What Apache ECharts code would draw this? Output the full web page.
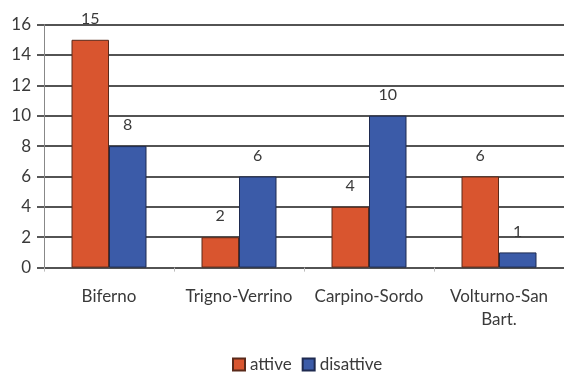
<!DOCTYPE html>
<html>
<head>
<meta charset="utf-8">
<style>
  html, body { margin: 0; padding: 0; background: #ffffff; }
  #chart { width: 564px; height: 373px; }
</style>
<script src="https://cdn.jsdelivr.net/npm/echarts@6/dist/echarts.min.js"></script>
</head>
<body>
<div id="chart"></div>
<script>
// Sorgenti per bacino: attive e disattive
const categories = ['Biferno', 'Trigno-Verrino', 'Carpino-Sordo', 'Volturno-San\nBart.'];
const attive = [15, 2, 4, 6];
const disattive = [8, 6, 10, 1];
const seriesNames = ['attive', 'disattive'];

const FONT = 'Lato, "Open Sans", sans-serif';
const TEXT = '#3a3a3a';

const chart = echarts.init(document.getElementById('chart'), null, { renderer: 'canvas' });

const labelStyle = {
  show: true,
  position: 'top',
  distance: 13,
  color: TEXT,
  fontFamily: FONT,
  fontSize: 16
};

chart.setOption({
  animation: false,
  backgroundColor: '#ffffff',
  grid: { left: 44, top: 24.6, width: 524, height: 243 },
  legend: {
    data: seriesNames,
    left: 232,
    top: 356,
    padding: 0,
    itemWidth: 12,
    itemHeight: 12,
    itemGap: 10,
    icon: 'rect',
    textStyle: { fontFamily: FONT, fontSize: 17, color: TEXT }
  },
  xAxis: {
    type: 'category',
    data: categories,
    axisLine: { show: false },
    axisTick: { show: true, length: 4, lineStyle: { color: '#bbbbbb' } },
    axisLabel: {
      interval: 0,
      margin: 17,
      color: TEXT,
      fontFamily: FONT,
      fontSize: 17,
      lineHeight: 23
    },
    splitLine: { show: false }
  },
  yAxis: {
    type: 'value',
    min: 0,
    max: 16,
    interval: 2,
    axisLine: { show: true, lineStyle: { color: '#888888', width: 1 } },
    axisTick: { show: true, length: 7, lineStyle: { color: '#222222', width: 1.5 } },
    axisLabel: { margin: 13, color: TEXT, fontFamily: FONT, fontSize: 17 },
    splitLine: { show: true, lineStyle: { color: '#1a1a1a', width: 1.5 } }
  },
  series: [
    {
      name: seriesNames[0],
      type: 'bar',
      data: attive,
      barWidth: 37.5,
      barGap: '0%',
      itemStyle: { color: '#d9552f', borderColor: '#5a2a1a', borderWidth: 1 },
      label: labelStyle
    },
    {
      name: seriesNames[1],
      type: 'bar',
      data: disattive,
      barWidth: 37.5,
      barGap: '0%',
      itemStyle: { color: '#3b5ba8', borderColor: '#1e2a50', borderWidth: 1 },
      label: labelStyle
    }
  ]
});
</script>
</body>
</html>
